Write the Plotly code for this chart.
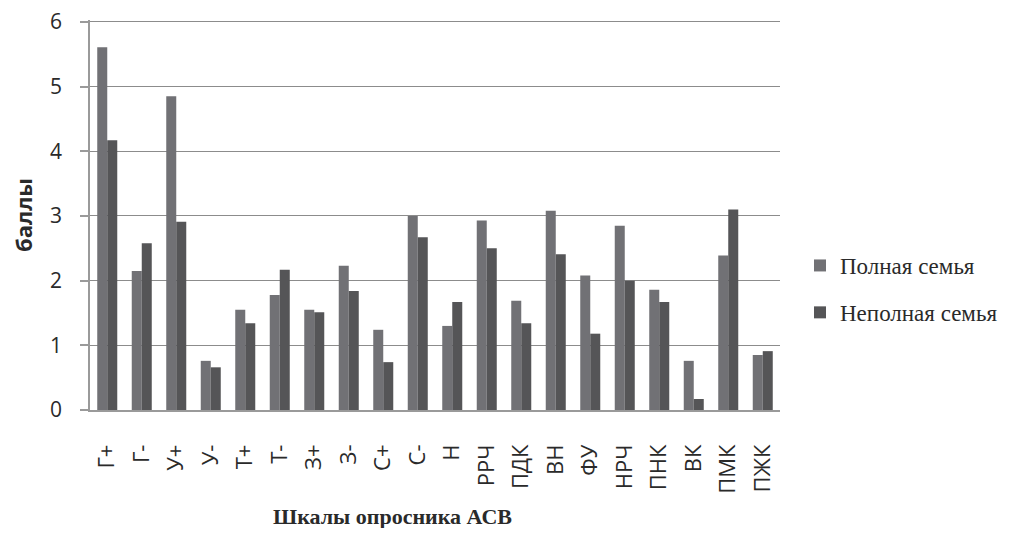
import plotly.graph_objects as go

categories = ["Г+", "Г-", "У+", "У-", "Т+", "Т-", "З+", "З-", "С+", "С-",
              "Н", "РРЧ", "ПДК", "ВН", "ФУ", "НРЧ", "ПНК", "ВК", "ПМК", "ПЖК"]
full_family = [5.61, 2.15, 4.85, 0.76, 1.55, 1.78, 1.55, 2.23, 1.24, 3.00,
               1.30, 2.93, 1.69, 3.08, 2.08, 2.85, 1.86, 0.76, 2.39, 0.85]
single_family = [4.17, 2.58, 2.91, 0.66, 1.34, 2.17, 1.51, 1.84, 0.74, 2.67,
                 1.67, 2.50, 1.34, 2.41, 1.18, 2.00, 1.67, 0.17, 3.10, 0.91]
series_names = ["Полная семья", "Неполная семья"]
y_ticks = [0, 1, 2, 3, 4, 5, 6]

W, H = 1000, 520
L, R, T, B = 82, 228, 12, 118
pw, ph = W - L - R, H - T - B

fig = go.Figure()
fig.add_trace(go.Bar(x=categories, y=full_family, name=series_names[0],
                     marker=dict(color="#717175", line=dict(width=0)),
                     legendgroup="a"))
fig.add_trace(go.Bar(x=categories, y=single_family, name=series_names[1],
                     marker=dict(color="#555557", line=dict(width=0)),
                     legendgroup="b"))

fig.update_layout(
    width=W, height=H,
    margin=dict(l=L, r=R, t=T, b=B, autoexpand=False),
    paper_bgcolor="white", plot_bgcolor="white",
    barmode="group", bargap=0.42, bargroupgap=0,
    font=dict(family="Open Sans, DejaVu Sans, sans-serif", color="#2a2a2a"),
    showlegend=True,
    legend=dict(x=(792 - L) / pw, y=(H - B - 236) / ph, xanchor="left", yanchor="top",
                font=dict(family="Liberation Serif, Times New Roman, serif", size=23, color="#2a2a2a"),
                tracegroupgap=14, itemwidth=30, traceorder="grouped",
                bgcolor="rgba(0,0,0,0)"),
    xaxis=dict(showline=True, linecolor="#9a9a9a", linewidth=1.5, automargin=False,
               tickangle=-90, tickfont=dict(size=22, color="#2a2a2a"),
               ticks="", ticklabelstandoff=24, showgrid=False),
    yaxis=dict(range=[0, 6.03], tickvals=y_ticks, showline=True, linecolor="#9a9a9a", linewidth=1.5,
               automargin=False, ticklabeloverflow="allow",
               showgrid=True, gridcolor="#8c8c8c", gridwidth=1.2,
               ticks="outside", ticklen=8, tickcolor="#9a9a9a", tickwidth=1.5,
               tickfont=dict(size=21, color="#2a2a2a"), ticklabelstandoff=14,
               zeroline=False,
               title=dict(text="<b>баллы</b>", font=dict(size=22, color="#2a2a2a"), standoff=24)),
)

fig.add_annotation(text="<b>Шкалы опросника АСВ</b>", xref="paper", yref="paper",
                   x=(384 - L) / pw, y=-(509 - (H - B)) / ph, xanchor="center", yanchor="middle",
                   showarrow=False,
                   font=dict(family="Liberation Serif, Times New Roman, serif", size=22, color="#2a2a2a"))

fig.write_html("out.html")
